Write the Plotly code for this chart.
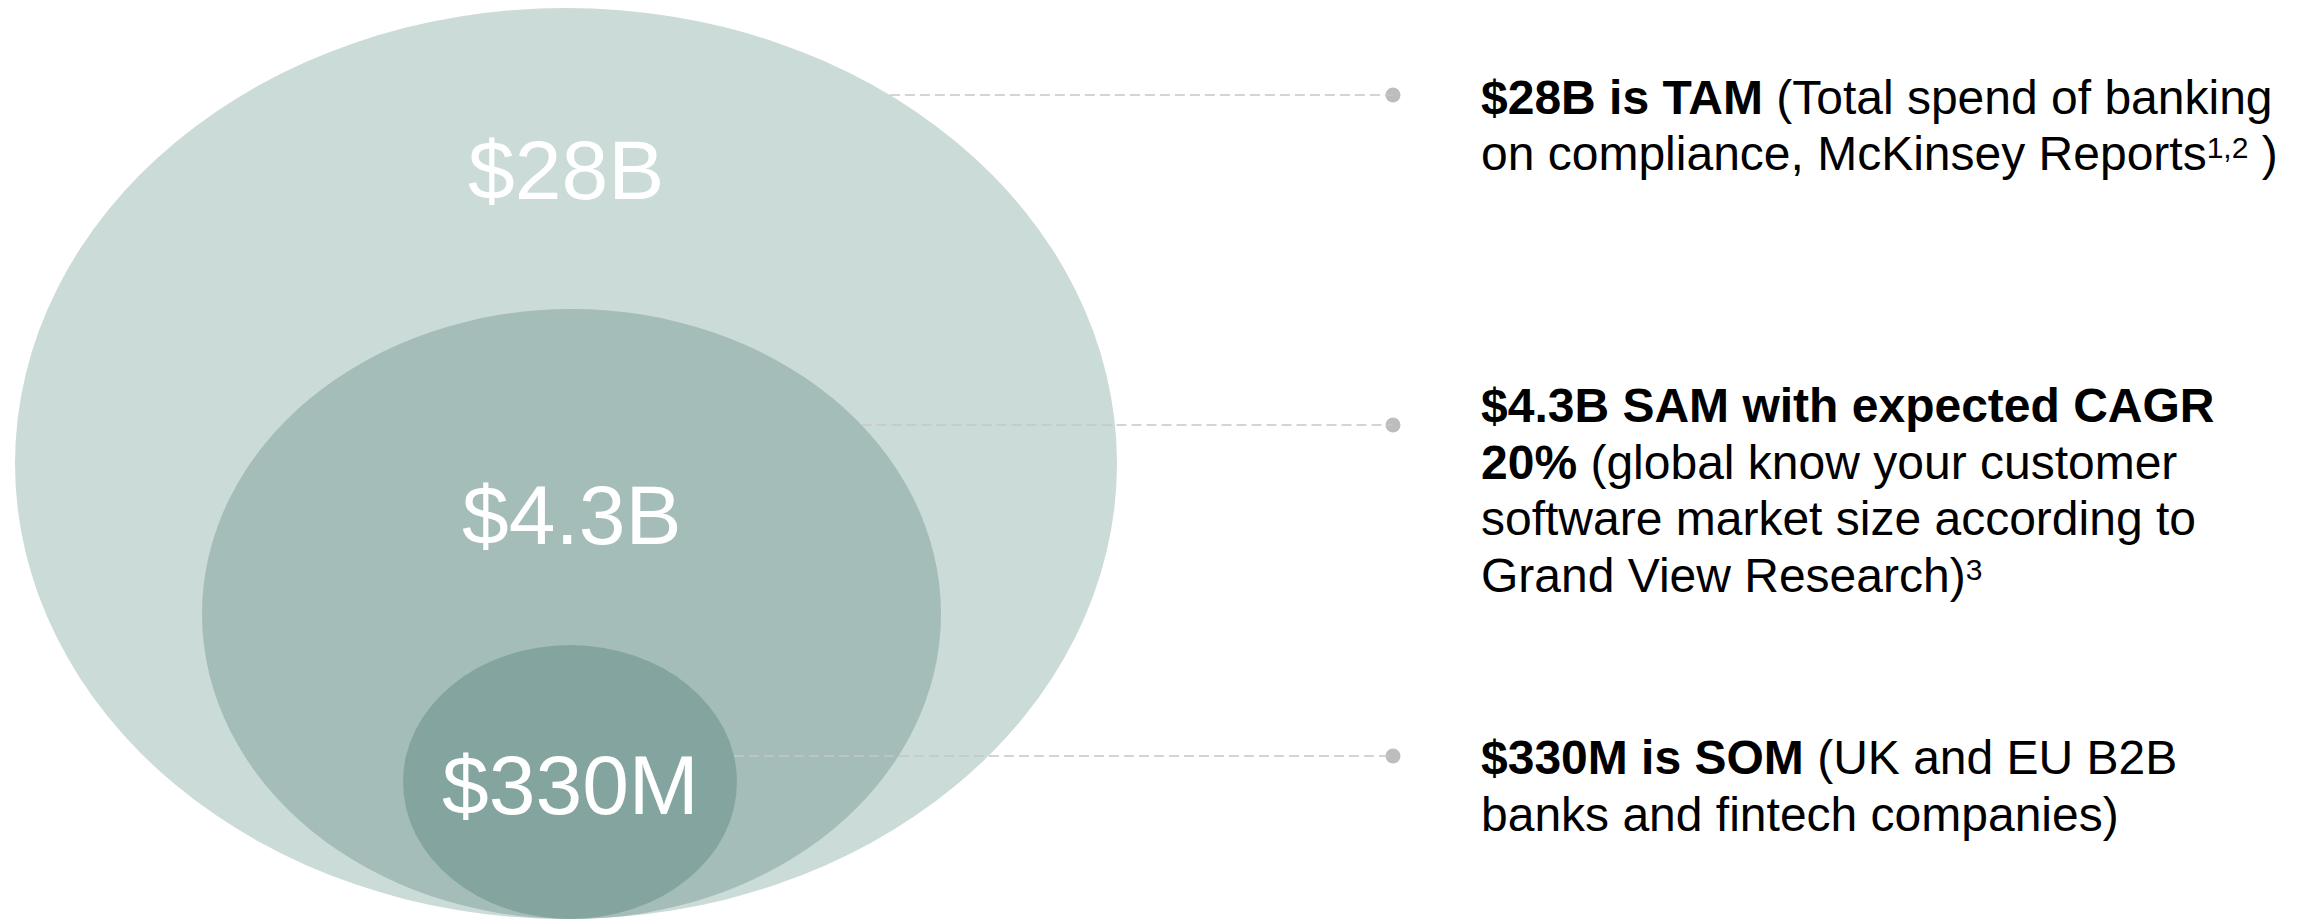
import plotly.graph_objects as go

# ---- data ----
tiers = ["TAM", "SAM", "SOM"]
value_labels = ["$28B", "$4.3B", "$330M"]
values_usd_bn = [28, 4.3, 0.33]
SUP = '<span style="font-size:30px;baseline-shift:12px">{}</span>'
desc_lines = [
    ["<b>$28B is TAM</b> (Total spend of banking",
     "on compliance, McKinsey Reports" + SUP.format("1,2") + " )"],
    ["<b>$4.3B SAM with expected CAGR</b>",
     "<b>20%</b> (global know your customer",
     "software market size according to",
     "Grand View Research)" + SUP.format("3")],
    ["<b>$330M is SOM</b> (UK and EU B2B",
     "banks and fintech companies)"],
]

# ---- layout / style (pixels in a 2310x920 canvas) ----
W, H = 2310, 920
ellipse_boxes = [(15, 8, 1117, 919), (202, 309, 941, 919), (403, 645, 737, 919)]
ellipse_colors = ["#CBDBD8", "#A5BDB9", "#84A59F"]
label_y = [170, 515, 785]
leader_y = [95, 425, 756]
dot_x = 1393
text_x = 1479
first_baseline = [115, 423, 775]
line_gap = 56.5
FONT = "Liberation Sans, Arial, Helvetica, sans-serif"
TEXT_SIZE = 48
LABEL_SIZE = 84


def edge_x(box, y):
    x0, y0, x1, y1 = box
    cx, cy = (x0 + x1) / 2, (y0 + y1) / 2
    rx, ry = (x1 - x0) / 2, (y1 - y0) / 2
    t = max(0.0, 1 - ((y - cy) / ry) ** 2)
    return cx + rx * t ** 0.5


fig = go.Figure()

shapes = []
for box, col in zip(ellipse_boxes, ellipse_colors):
    shapes.append(dict(type="circle", xref="x", yref="y",
                       x0=box[0], y0=box[1], x1=box[2], y1=box[3],
                       fillcolor=col, line=dict(width=0), layer="below"))
for box, ly in zip(ellipse_boxes, leader_y):
    shapes.append(dict(type="line", xref="x", yref="y",
                       x0=edge_x(box, ly), x1=dot_x, y0=ly, y1=ly,
                       line=dict(color="#C6C6C6", width=1.5, dash="10px,5px"),
                       layer="above"))

fig.add_trace(go.Scatter(
    x=[dot_x] * len(tiers), y=leader_y, mode="markers",
    marker=dict(size=15, color="#BDBDBD", line=dict(width=0)),
    hoverinfo="text", text=[f"{t}: {v}" for t, v in zip(tiers, value_labels)],
    showlegend=False))

annotations = []
for box, lbl, ly in zip(ellipse_boxes, value_labels, label_y):
    annotations.append(dict(x=(box[0] + box[2]) / 2, y=ly, xref="x", yref="y",
                            text=lbl, showarrow=False, xanchor="center", yanchor="middle",
                            font=dict(family=FONT, size=LABEL_SIZE, color="white")))
for lines, b0 in zip(desc_lines, first_baseline):
    for i, ln in enumerate(lines):
        base = b0 + i * line_gap
        annotations.append(dict(x=text_x, y=base + 11, xref="x", yref="y",
                                text=ln, showarrow=False, xanchor="left", yanchor="bottom",
                                align="left",
                                font=dict(family=FONT, size=TEXT_SIZE, color="black")))

fig.update_layout(
    width=W, height=H, autosize=False,
    margin=dict(l=0, r=0, t=0, b=0, pad=0),
    paper_bgcolor="white", plot_bgcolor="white",
    xaxis=dict(range=[0, W], visible=False, fixedrange=True),
    yaxis=dict(range=[H, 0], visible=False, fixedrange=True),
    shapes=shapes, annotations=annotations,
    showlegend=False,
)

fig.write_html("out.html", config={"displayModeBar": False})
